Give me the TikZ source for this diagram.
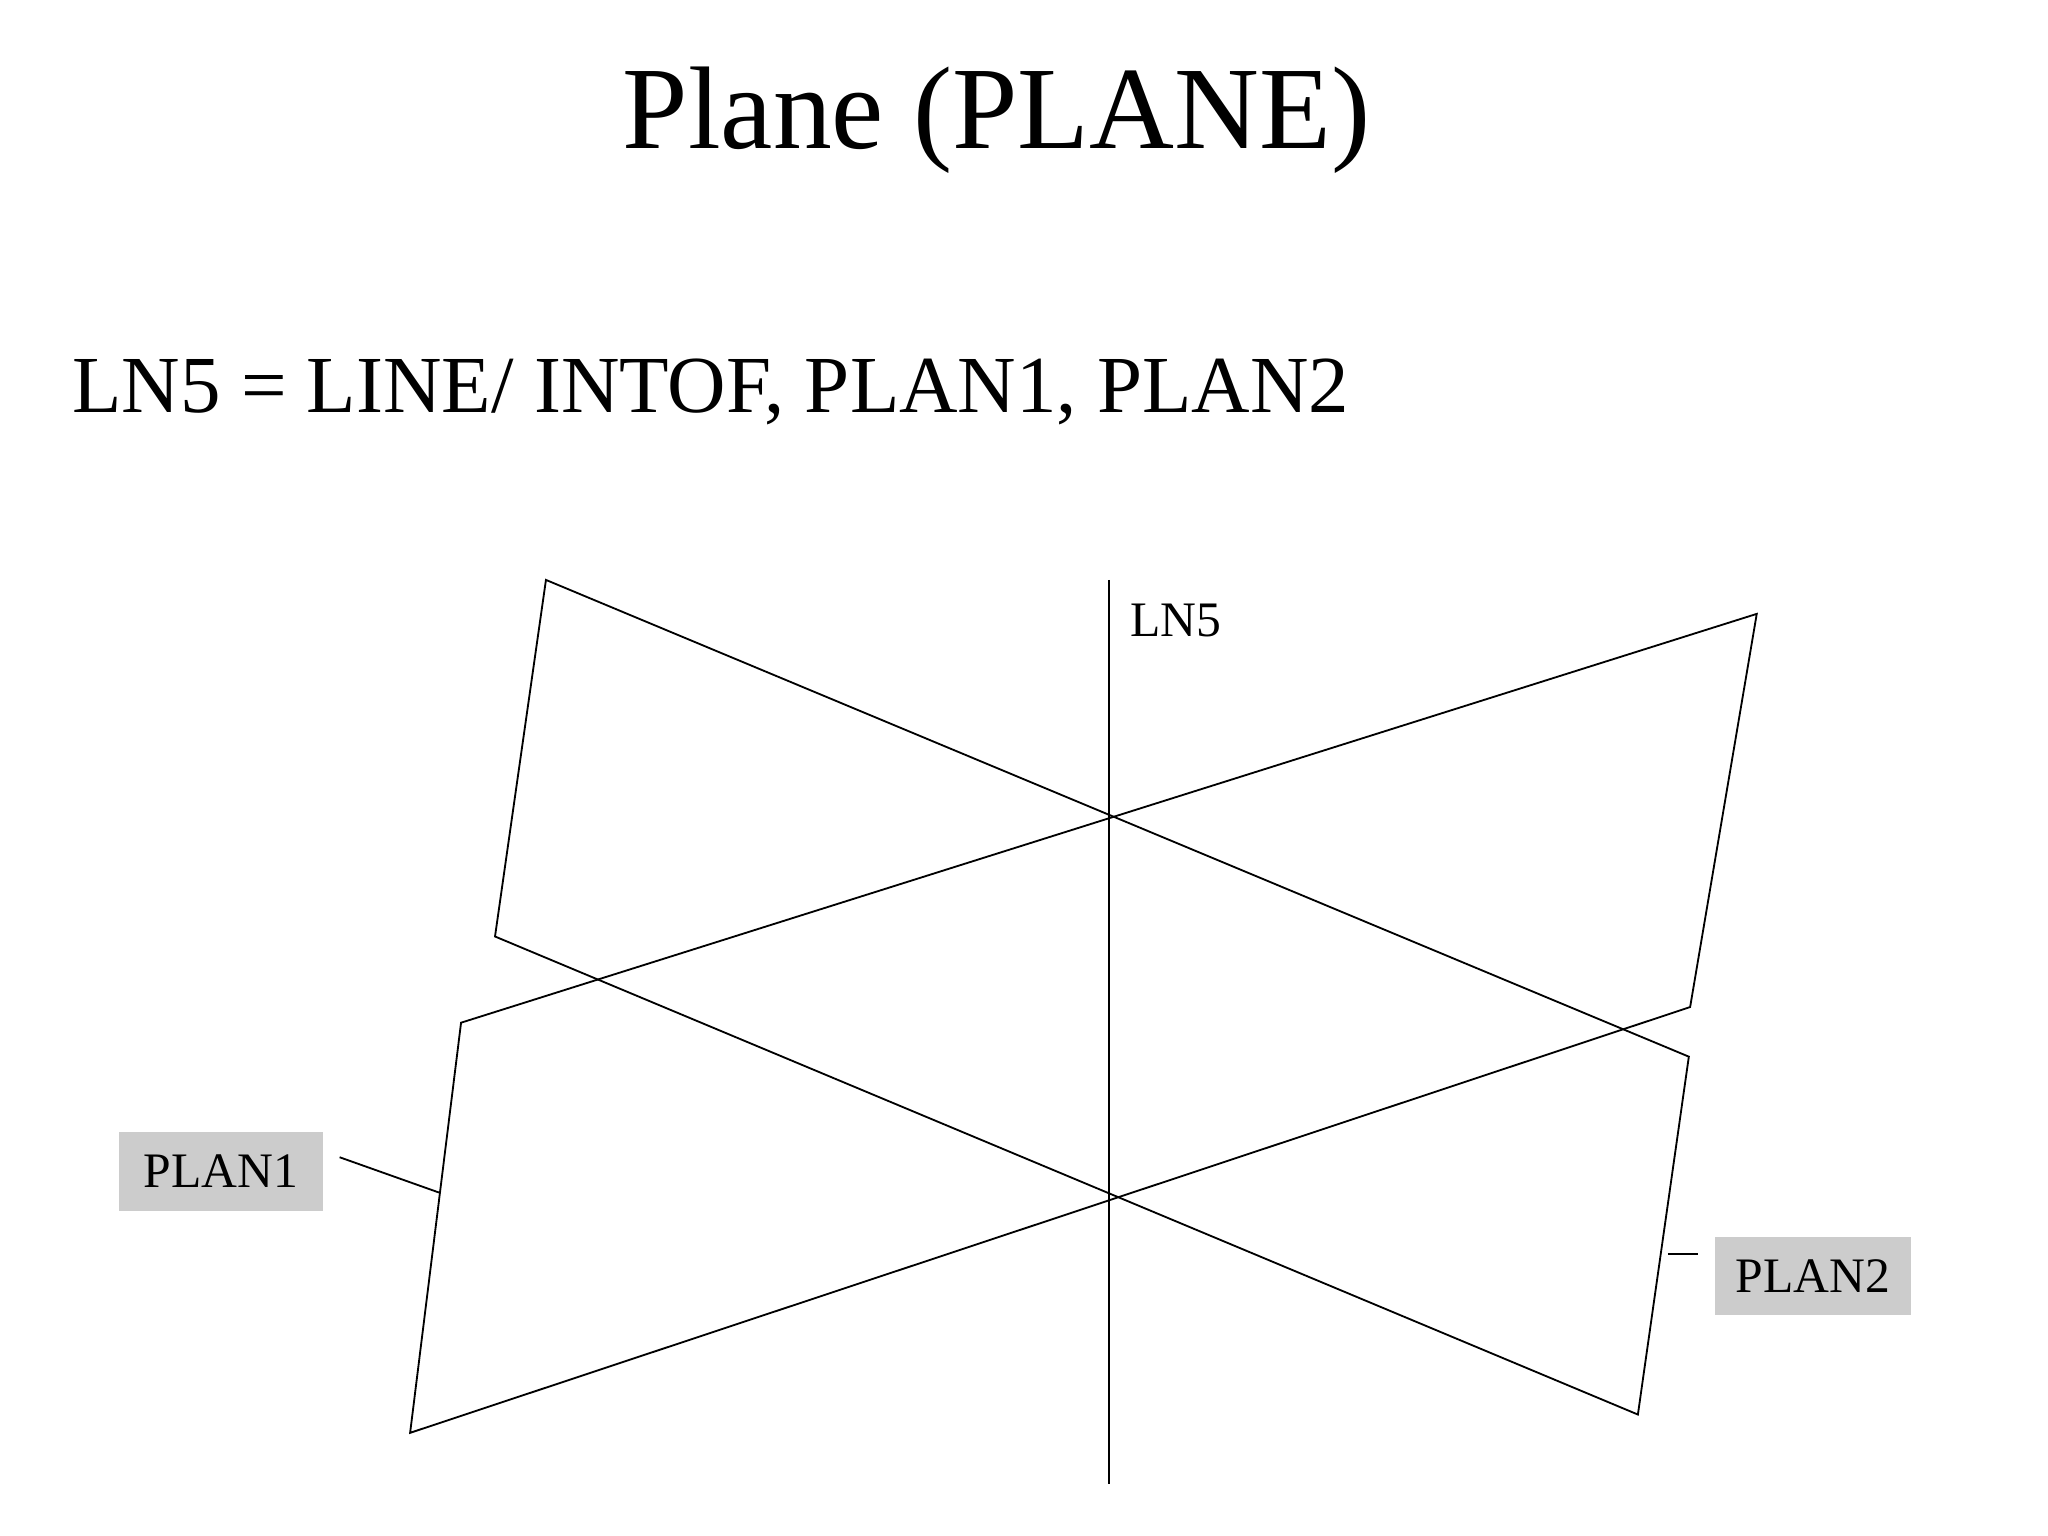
\documentclass[tikz,border=0pt]{standalone}
\usepackage{fontspec}
\setmainfont{Liberation Serif}
\begin{document}
\begin{tikzpicture}[x=0.5pt,y=-0.5pt,
  edge/.style={draw=black,line width=0.7pt},
  tag/.style={fill=black!20,minimum width=78pt,minimum height=30pt,font=\fontsize{19}{22}\selectfont,inner sep=0pt}]
\useasboundingbox (0,0) rectangle (1568,1176);
\node (title) at (763,92) {\fontsize{45}{50}\selectfont Plane (PLANE)};
\node[anchor=base west,inner sep=0pt] (cmd) at (55,316) {\fontsize{31}{36}\selectfont LN5 = LINE/ INTOF, PLAN1, PLAN2};
% plane 1
\coordinate (a1) at (418,444); \coordinate (a2) at (1293,809);
\coordinate (a3) at (1254,1083); \coordinate (a4) at (379,717);
\draw[edge] (a1) -- (a2) -- (a3) -- (a4) -- cycle;
% plane 2
\coordinate (b1) at (1345,470); \coordinate (b2) at (353,783);
\coordinate (b3) at (314,1097); \coordinate (b4) at (1294,771);
\draw[edge] (b1) -- (b2) -- (b3) -- (b4) -- cycle;
% LN5
\coordinate (l1) at (849,444); \coordinate (l2) at (849,1136);
\draw[edge] (l1) -- (l2);
\node[anchor=west,inner sep=0pt,font=\fontsize{19}{22}\selectfont] (ln) at (865,475) {LN5};
% labels
\node[tag] (p1) at (169,897) {PLAN1};
\node[tag,minimum width=75pt] (p2) at (1388,977) {PLAN2};
\coordinate (p1s) at (260,886); \coordinate (p1e) at (336,913);
\draw[edge] (p1s) -- (p1e);
\coordinate (p2s) at (1277,960); \coordinate (p2e) at (1300,960);
\draw[edge] (p2s) -- (p2e);
\end{tikzpicture}
\end{document}
